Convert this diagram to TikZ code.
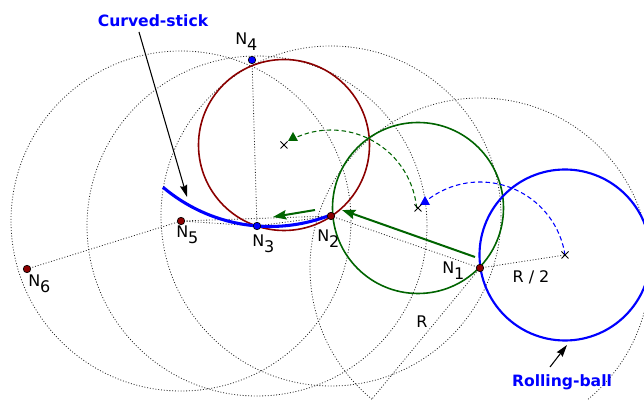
\documentclass[tikz,border=0pt]{standalone}
\usepackage{fontspec}
\setmainfont{DejaVu Sans}
\usetikzlibrary{arrows.meta}
\definecolor{dgreen}{HTML}{006400}
\definecolor{dred}{HTML}{8B0000}
\definecolor{pblue}{HTML}{0000FF}
\newcommand\nlab[1]{N\raisebox{-4.5pt}{#1}}
\begin{document}
\begin{tikzpicture}[x=0.75pt,y=0.75pt,
  guide/.style={black!85, line width=0.6pt, dash pattern=on 0.7pt off 1.4pt},
  ptdot/.style={circle, draw=black, line width=0.5pt, fill=dred, inner sep=0pt, minimum size=5.6pt},
  bptdot/.style={ptdot, fill=pblue},
  lbl/.style={inner sep=0pt, anchor=base west, font=\fontsize{12}{14}\selectfont},
  ttl/.style={inner sep=0pt, anchor=base, text=pblue, font=\fontsize{11.7}{14}\selectfont\bfseries},
  xmk/.style={black, line width=0.7pt},
  garc/.style={line width=0.8pt, dash pattern=on 3.4pt off 2.2pt},
  garrow/.style={dgreen, line width=1.5pt, -{Stealth[length=10pt,width=7pt,inset=1.5pt]}},
  karrow/.style={black, line width=0.8pt, -{Stealth[length=9pt,width=5.5pt,inset=1pt]}}
]
\useasboundingbox (0,0) rectangle (644,400);
\clip (0,0) rectangle (644,400);
% points
\coordinate (N1) at (480,132);
\coordinate (N2) at (331,184);
\coordinate (N3) at (257,174);
\coordinate (N4) at (252,340);
\coordinate (N5) at (181,179);
\coordinate (N6) at (27,131);
\coordinate (bc) at (565,145);
\coordinate (gc) at (418,192);
\coordinate (rc) at (284,255);
\coordinate (rend) at (372,1);
% guide circles of radius R
\foreach \p in {N1,N2,N3,N5}
  \draw[guide] (\p) circle[radius=170];
% guide lines
\draw[guide] (N6) -- (N5);
\draw[guide] (N5) -- (N3);
\draw[guide] (N5) -- (N2);
\draw[guide] (N3) -- (N2);
\draw[guide] (N2) -- (N1);
\draw[guide] (N1) -- (bc);
\draw[guide] (N1) -- (rend);
\draw[guide] (N3) -- (N4);
% coloured circles
\draw[dred, line width=1.2pt] (rc) circle[radius=85.5];
\draw[dgreen, line width=1.2pt] (gc) circle[radius=85.5];
\draw[pblue, line width=1.6pt] (bc) circle[radius=85.5];
% dashed rotation arcs
\draw[garc, dgreen] (N2) ++(5.3:86) arc[start angle=5.3, end angle=115, radius=86];
\draw[garc, pblue] (N1) ++(8.7:86) arc[start angle=8.7, end angle=129, radius=86];
\fill[dgreen] (293,263) ++(-5,-4) -- ++(10,0) -- ++(-5,9) -- cycle;
\fill[pblue] (425,199) ++(-5,-4) -- ++(10,0) -- ++(-5,9) -- cycle;
% centre marks
\foreach \c in {bc,gc,rc}
  \draw[xmk] (\c) ++(-3.5,-3.5) -- ++(7,7) ++(-7,0) -- ++(7,-7);
% curved stick
\draw[pblue, line width=2.3pt] (270,339) ++(229.7:165.5) arc[start angle=229.7, end angle=291.5, radius=165.5];
% green motion arrows
\coordinate (a1s) at (475,143);
\coordinate (a1e) at (342,190);
\coordinate (a2s) at (315,190);
\coordinate (a2e) at (273,183);
\draw[garrow] (a1s) -- (a1e);
\draw[garrow] (a2s) -- (a2e);
% point nodes
\node[ptdot] (p1) at (N1) {};
\node[ptdot] (p2) at (N2) {};
\node[bptdot] (p3) at (N3) {};
\node[bptdot] (p4) at (N4) {};
\node[ptdot] (p5) at (N5) {};
\node[ptdot] (p6) at (N6) {};
% labels
\node[lbl] (l1) at (442,126) {\nlab{1}};
\node[lbl] (l2) at (317,158) {\nlab{2}};
\node[lbl] (l3) at (252,153) {\nlab{3}};
\node[lbl] (l4) at (235,355) {\nlab{4}};
\node[lbl] (l5) at (176,162) {\nlab{5}};
\node[lbl] (l6) at (28,113) {\nlab{6}};
\node[lbl, anchor=base] (lr2) at (531,117) {R / 2};
\node[lbl, anchor=base] (lr) at (422,72) {R};
% titles
\node[ttl] (cs) at (153,373) {Curved-stick};
\node[ttl] (rb) at (562,13) {Rolling-ball};
\coordinate (csa) at (139,368);
\coordinate (cse) at (187,203);
\coordinate (rba) at (550,33);
\coordinate (rbe) at (567,55);
\draw[karrow] (csa) -- (cse);
\draw[karrow] (rba) -- (rbe);
\end{tikzpicture}
\end{document}
